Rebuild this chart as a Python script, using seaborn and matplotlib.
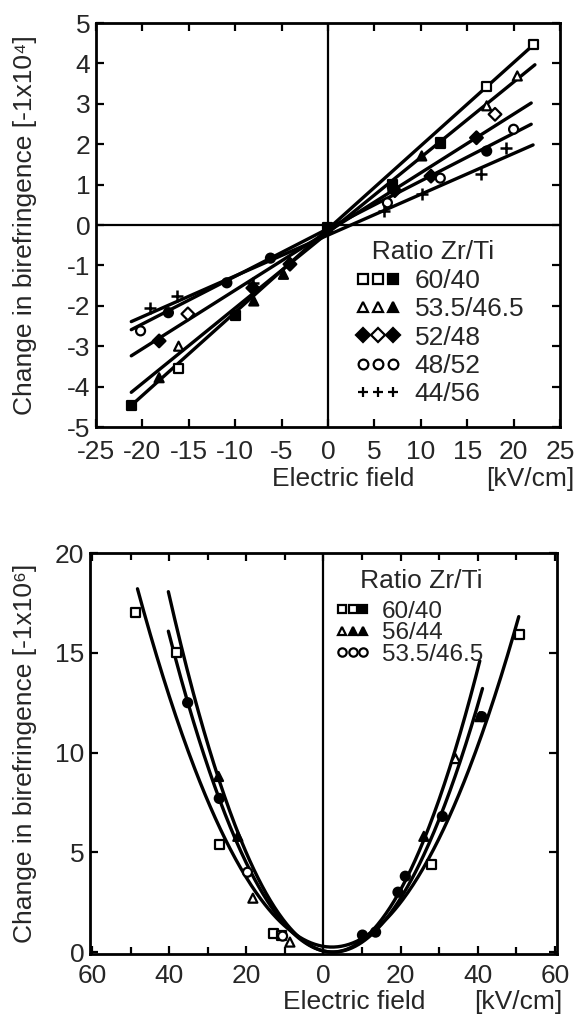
import numpy as np
import pandas as pd
import matplotlib
matplotlib.use("Agg")
import matplotlib.pyplot as plt
from matplotlib.lines import Line2D
from matplotlib.legend_handler import HandlerTuple
from matplotlib.ticker import MultipleLocator, FuncFormatter
import seaborn as sns

# ---------------- data: top panel (linear effect) ----------------
top_labels = ["60/40", "53.5/46.5", "52/48", "48/52", "44/56"]
top_markers = ["s", "^", "D", "o", "+"]
top_slopes = [0.206, 0.1864, 0.1452, 0.118, 0.101]
top_intercepts = [-0.10, -0.19, -0.16, -0.09, -0.25]
top_line_start = [-21.2, -21.2, -21.2, -21.2, -21.2]
top_line_end = [22.3, 22.3, 21.9, 21.9, 22.1]

sq_x = [-21.2, -16.1, -10.0, 0.0, 7.0, 12.1, 17.1, 22.2]
sq_y = [-4.48, -3.54, -2.25, -0.05, 1.0, 2.03, 3.44, 4.48]
sq_f = [1, 0, 1, 1, 1, 1, 0, 0]
tri_x = [-18.2, -16.1, -8.0, -4.8, 7.0, 10.1, 17.1, 20.4]
tri_y = [-3.78, -3.0, -1.88, -1.22, 0.95, 1.71, 2.95, 3.69]
tri_f = [1, 0, 1, 1, 1, 1, 0, 0]
dia_x = [-18.2, -15.1, -8.1, -4.1, 7.2, 11.1, 16.0, 18.0]
dia_y = [-2.87, -2.2, -1.56, -0.97, 0.85, 1.21, 2.16, 2.74]
dia_f = [1, 0, 1, 1, 1, 1, 1, 0]
cir_x = [-20.2, -17.2, -10.9, -6.2, 6.4, 12.1, 17.1, 20.0]
cir_y = [-2.62, -2.17, -1.43, -0.82, 0.55, 1.16, 1.83, 2.37]
cir_f = [0, 1, 1, 1, 0, 0, 1, 0]
plus_x = [-19.2, -16.3, -8.1, 6.0, 10.1, 16.5, 19.2]
plus_y = [-2.05, -1.76, -1.43, 0.35, 0.76, 1.26, 1.91]
plus_f = [1, 1, 1, 1, 1, 1, 1]

top_points = [(sq_x, sq_y, sq_f), (tri_x, tri_y, tri_f), (dia_x, dia_y, dia_f),
              (cir_x, cir_y, cir_f), (plus_x, plus_y, plus_f)]
top_legend_fill = [[0, 0, 1], [0, 0, 1], [1, 0, 1], [0, 0, 0], [1, 1, 1]]

# ---------------- data: bottom panel (quadratic effect) ----------------
bot_labels = ["60/40", "56/44", "53.5/46.5"]
bot_markers = ["s", "^", "o"]
bot_a = [0.00707, 0.0100, 0.00882]
bot_x0 = [2.2, 2.3, 2.5]
bot_c = [0.25, 0.0, 0.0]
bot_start = [-48.2, -40.2, -40.2]
bot_end = [50.6, 40.5, 41.2]

bsq_x = [-48.6, -38.1, -27.0, -13.0, -11.0, 27.9, 50.9]
bsq_y = [17.0, 15.0, 5.4, 0.95, 0.85, 4.4, 15.9]
bsq_f = [0, 0, 0, 0, 0, 0, 0]
btri_x = [-27.2, -22.2, -18.3, -8.7, 26.0, 34.2, 40.5]
btri_y = [8.8, 5.8, 2.7, 0.5, 5.8, 9.7, 11.8]
btri_f = [1, 1, 0, 0, 1, 0, 1]
bcir_x = [-35.2, -27.0, -19.7, -10.6, 10.1, 13.5, 19.3, 21.2, 30.8, 41.0]
bcir_y = [12.5, 7.7, 4.0, 0.8, 0.85, 1.0, 3.0, 3.8, 6.8, 11.8]
bcir_f = [1, 1, 0, 0, 1, 1, 1, 1, 1, 1]

bot_points = [(bsq_x, bsq_y, bsq_f), (btri_x, btri_y, btri_f), (bcir_x, bcir_y, bcir_f)]
bot_legend_fill = [[0, 0, 1], [0, 1, 1], [0, 0, 0]]

# ---------------- style ----------------
sns.set_theme(style="ticks")
plt.rcParams["font.family"] = ["Liberation Sans Narrow", "Liberation Sans", "DejaVu Sans"]
plt.rcParams["axes.unicode_minus"] = False
plt.rcParams["axes.linewidth"] = 2.0

FS = 19
fig = plt.figure(figsize=(5.77, 10.23), dpi=100)
ax1 = fig.add_axes([0.1664, 0.5826, 0.8041, 0.3949])
ax2 = fig.add_axes([0.156, 0.0674, 0.8093, 0.392])

def style_ax(ax, xpad):
    for s in ax.spines.values():
        s.set_linewidth(2.0)
        s.set_color("black")
    ax.tick_params(which="both", direction="in", top=True, right=True,
                   length=6, width=1.6, color="black", labelsize=FS, pad=4)
    ax.tick_params(axis="x", which="both", pad=xpad)
    ax.tick_params(which="minor", length=5)

def legend_handles(markers, fills, ms):
    hs = []
    for m, fl in zip(markers, fills):
        parts = []
        for f in fl:
            fc = "black" if (f or m == "+") else "white"
            parts.append(Line2D([], [], marker=m, linestyle="none", markersize=ms,
                                markerfacecolor=fc, markeredgecolor="black",
                                markeredgewidth=1.6))
        hs.append(tuple(parts))
    return hs

# ---------------- top panel ----------------
line_rows = []
for lab, k, b, x0, x1 in zip(top_labels, top_slopes, top_intercepts, top_line_start, top_line_end):
    for xv in (x0, x1):
        line_rows.append({"series": lab, "x": xv, "y": k * xv + b})
line_df = pd.DataFrame(line_rows)
sns.lineplot(data=line_df, x="x", y="y", units="series", estimator=None,
             color="black", linewidth=2.4, ax=ax1, legend=False)

for (xs, ys, fs), m in zip(top_points, top_markers):
    fcs = ["black" if f else "white" for f in fs]
    if m == "+":
        ax1.scatter(xs, ys, marker="+", s=70, c="black", linewidths=1.8, zorder=5)
    else:
        ax1.scatter(xs, ys, marker=m, s=42, facecolors=fcs, edgecolors="black",
                    linewidths=1.6, zorder=5)

ax1.axhline(0, color="black", lw=1.6, zorder=1)
ax1.axvline(0, color="black", lw=1.6, zorder=1)
ax1.set_xlim(-25, 25)
ax1.set_ylim(-5, 5)
ax1.xaxis.set_major_locator(MultipleLocator(5))
ax1.yaxis.set_major_locator(MultipleLocator(1))
style_ax(ax1, 9)
ax1.set_xlabel("")
ax1.set_ylabel("Change in birefringence [-1x10\u2074]", fontsize=FS)
ax1.yaxis.set_label_coords(-0.127, 0.5)
ax1.text(0.379, -0.128, "Electric field", transform=ax1.transAxes, fontsize=FS,
         ha="left", va="center")
ax1.text(1.032, -0.128, "[kV/cm]", transform=ax1.transAxes, fontsize=FS,
         ha="right", va="center", clip_on=False)

leg1 = ax1.legend(legend_handles(top_markers, top_legend_fill, 7), top_labels,
                  handler_map={tuple: HandlerTuple(ndivide=None, pad=0.1)},
                  title="  Ratio Zr/Ti", title_fontsize=FS, fontsize=FS,
                  loc="lower left", bbox_to_anchor=(0.562, 0.052), frameon=False,
                  handlelength=1.6, handletextpad=0.6, labelspacing=0.16,
                  borderpad=0.0, borderaxespad=0.0, alignment="left")
leg1._legend_box.sep = 3.6

# ---------------- bottom panel ----------------
curve_rows = []
for lab, a, x0, c, s, e in zip(bot_labels, bot_a, bot_x0, bot_c, bot_start, bot_end):
    xs = np.linspace(s, e, 300)
    for xv in xs:
        curve_rows.append({"series": lab, "x": xv, "y": a * (xv - x0) ** 2 + c})
curve_df = pd.DataFrame(curve_rows)
sns.lineplot(data=curve_df, x="x", y="y", units="series", estimator=None,
             color="black", linewidth=2.4, ax=ax2, legend=False)

for (xs, ys, fs), m in zip(bot_points, bot_markers):
    fcs = ["black" if f else "white" for f in fs]
    ax2.scatter(xs, ys, marker=m, s=42, facecolors=fcs, edgecolors="black",
                linewidths=1.6, zorder=5)

ax2.axvline(0, color="black", lw=1.6, zorder=1)
ax2.set_xlim(-60.5, 60.5)
ax2.set_ylim(-0.1, 20)
ax2.xaxis.set_major_locator(MultipleLocator(20))
ax2.xaxis.set_minor_locator(MultipleLocator(10))
ax2.yaxis.set_major_locator(MultipleLocator(5))
ax2.xaxis.set_major_formatter(FuncFormatter(lambda v, p: f"{abs(v):.0f}"))
style_ax(ax2, 7)
ax2.set_xlabel("")
ax2.set_ylabel("Change in birefringence [-1x10\u2076]", fontsize=FS)
ax2.yaxis.set_label_coords(-0.113, 0.5)
ax2.text(0.413, -0.12, "Electric field", transform=ax2.transAxes, fontsize=FS,
         ha="left", va="center")
ax2.text(1.011, -0.12, "[kV/cm]", transform=ax2.transAxes, fontsize=FS,
         ha="right", va="center", clip_on=False)

leg2 = ax2.legend(legend_handles(bot_markers, bot_legend_fill, 6), bot_labels,
                  handler_map={tuple: HandlerTuple(ndivide=None, pad=0.1)},
                  title="   Ratio Zr/Ti", title_fontsize=FS, fontsize=17.5,
                  loc="upper left", bbox_to_anchor=(0.531, 0.96), frameon=False,
                  handlelength=1.2, handletextpad=0.6, labelspacing=-0.02,
                  borderpad=0.0, borderaxespad=0.0, alignment="left")
leg2._legend_box.sep = 5.5

fig.savefig("out.png", dpi=100)
